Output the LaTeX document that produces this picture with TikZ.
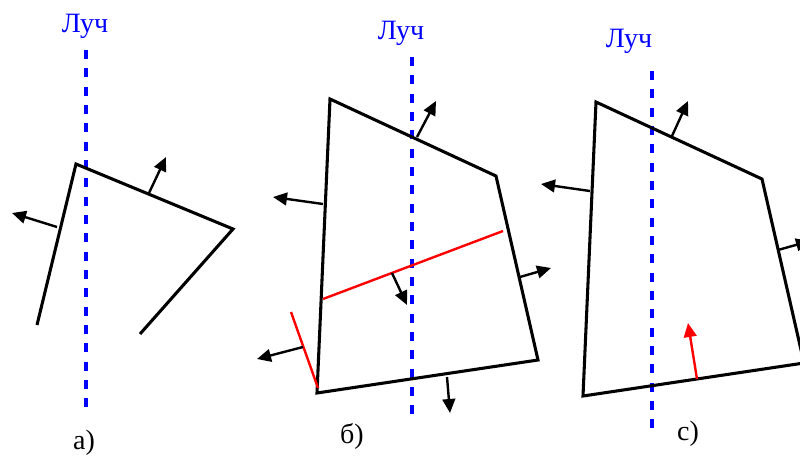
\documentclass[tikz,border=0pt]{standalone}
\usepackage{fontspec}
\setmainfont{Liberation Serif}
\usepackage{tikz}
\usetikzlibrary{arrows.meta}
\usepackage{xcolor}
\tikzstyle{facet} = [draw, line width=2.3pt, line join=miter]
\tikzstyle{cut} = [draw, red, line width=1.8pt]
\tikzstyle{beam} = [draw, blue, line width=2.3pt, dash pattern=on 6.75pt off 7pt]
\tikzstyle{normvec} = [draw, line width=1.8pt, -{Triangle[length=10.5pt, width=9.5pt]}]
\tikzstyle{caption} = [font=\fontsize{21}{24}\selectfont, anchor=base, inner sep=0pt]

\begin{document}
\begin{tikzpicture}[x=0.75pt, y=-0.75pt]
    \useasboundingbox (0,0) rectangle (800,457);
    \clip (0,0) rectangle (800,457);

    % a)
    \node [caption, blue] (raya) at (85,32) {Луч};
    \path [beam] (86,50) -- (86,413);
    \path [facet] (37,325) -- (76,164) -- (233,229) -- (140,334);
    \path [normvec] (57,227) -- (12,213);
    \path [normvec] (149,193) -- (166,157);
    \node [caption] (capa) at (84,449) {а)};

    % b)
    \node [caption, blue] (rayb) at (401,39) {Луч};
    \path [beam] (412,57) -- (412,421);
    \path [facet] (330,99) -- (496,176) -- (538,360) -- (317,393) -- cycle;
    \path [cut] (323,299) -- (503,231);
    \path [cut] (291,312) -- (318,388);
    \path [normvec] (417,137) -- (436,101);
    \path [normvec] (323,204) -- (273,197);
    \path [normvec] (520,277) -- (551,268);
    \path [normvec] (392,273) -- (407,305);
    \path [normvec] (303,347) -- (257,359);
    \path [normvec] (447,377) -- (450,413);
    \node [caption] (capb) at (352,443) {б)};

    % c)
    \node [caption, blue] (rayc) at (629,47) {Луч};
    \path [beam] (652,71) -- (652,433);
    \path [facet] (596,102) -- (762,179) -- (804,363) -- (583,396) -- cycle;
    \path [normvec] (672,136) -- (688,101);
    \path [normvec] (590,191) -- (541,184);
    \path [normvec] (778,250) -- (810,241);
    \path [normvec, red] (697,379) -- (688,323);
    \node [caption] (capc) at (688,440) {с)};
\end{tikzpicture}
\end{document}
